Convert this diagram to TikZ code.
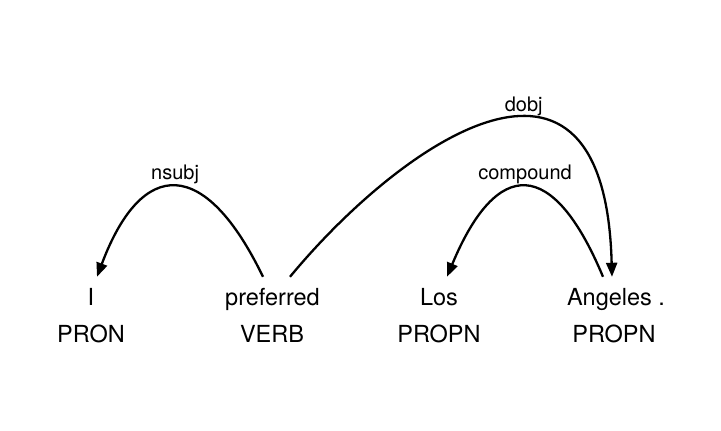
\documentclass[tikz,border=0pt]{standalone}
\usepackage{fontspec}
\setmainfont{TeX Gyre Heros}
\usepackage{tikz}
\usetikzlibrary{
  arrows.meta,
  calc,
  positioning,
}
\tikzstyle{deparc} = [
  -{Triangle[length=14pt,width=11pt]},
  line width=2.3pt,
  black,
]

\begin{document}
\begin{tikzpicture}[x=1pt, y=1pt,
                    word/.style={anchor=base, inner xsep=0pt, inner ysep=12pt,
                                 text height=17pt, text depth=5pt,
                                 font=\fontsize{23.5}{28}\selectfont},
                    tag/.style={anchor=base, inner sep=0pt,
                                font=\fontsize{23.5}{28}\selectfont},
                    rel/.style={anchor=base, inner sep=0pt, yshift=7pt,
                                font=\fontsize{20}{24}\selectfont}]
      \useasboundingbox (0,0) rectangle (721,431);

      \node [word] (w1) at (91,125) {I};
      \node [word] (w2) at (272.5,125) {preferred};
      \node [word] (w3) at (439,125) {Los};
      \node [word] (w4) at (616,125) {Angeles .};

      \node [tag] (t1) at (91,88) {PRON};
      \node [tag] (t2) at (272,88) {VERB};
      \node [tag] (t3) at (439,88) {PROPN};
      \node [tag] (t4) at (614,88) {PROPN};

      % dependency arcs
      \draw [deparc] ([xshift=-9.5pt]w2.north) .. controls +(-58,120) and +(45,120) ..
            node [rel, pos=.5] (nsubj) {nsubj} ([xshift=6pt]w1.north);
      \draw [deparc] ([xshift=-13pt]w4.north) .. controls +(-50,120) and +(50,120) ..
            node [rel, pos=.5] (compound) {compound} ([xshift=8pt]w3.north);
      \draw [deparc] ([xshift=17.5pt]w2.north) .. controls +(110,133) and +(-7,277) ..
            node [rel, pos=.59] (dobj) {dobj} ([xshift=-4pt]w4.north);
    \end{tikzpicture}
\end{document}
